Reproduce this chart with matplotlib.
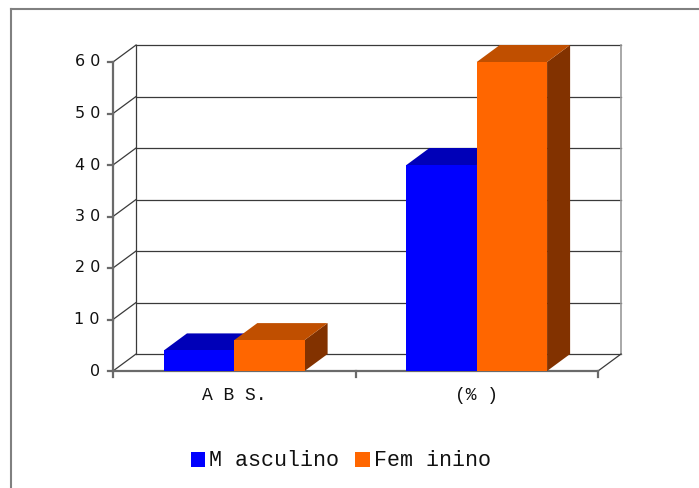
import matplotlib as mpl
mpl.use('agg')
import matplotlib.pyplot as plt
from matplotlib.patches import Polygon, Rectangle
from matplotlib.lines import Line2D

# chart data
categories = ['A B S.', '(% )']
series_names = ['M asculino', 'Fem inino']
masculino = [4, 40]
femenino = [6, 60]
yticks = [0, 10, 20, 30, 40, 50, 60]
ytick_labels = ['0', '1 0', '2 0', '3 0', '4 0', '5 0', '6 0']

front_cols = ['#0000FF', '#FF6600']
top_cols = ['#0000B8', '#C04F00']
side_cols = ['#00007A', '#823200']

DX, DY = 0.095, 3.3      # depth offset of the 3d box (x units, value units)
BW = 0.29                # bar width per series

fig = plt.figure(figsize=(6.99, 4.88), dpi=100)
ax = fig.add_axes([113 / 699, 117 / 488, 485 / 699, 309 / 488])
ax.set_xlim(0, 2)
ax.set_ylim(0, 60)
ax.axis('off')

grid_kw = dict(color='#3a3a3a', lw=0.9, clip_on=False, zorder=1)
axis_kw = dict(color='#6a6a6a', lw=1.6, clip_on=False, zorder=2)

# walls and gridlines
for g in yticks:
    ax.plot([DX, 2 + DX], [g + DY, g + DY], **grid_kw)
    ax.plot([0, DX], [g, g + DY], **grid_kw)
ax.plot([DX, DX], [DY, 60 + DY], **grid_kw)
ax.plot([2 + DX, 2 + DX], [DY, 60 + DY], color='#9a9a9a', lw=1.2, clip_on=False, zorder=1)
ax.plot([2, 2 + DX], [0, DY], **grid_kw)

# front axes
ax.plot([0, 0], [0, 60], **axis_kw)
ax.plot([0, 2], [0, 0], **axis_kw)
for g, lab in zip(yticks, ytick_labels):
    ax.plot([-0.02, 0], [g, g], **axis_kw)
    ax.text(-0.054, g, lab, ha='right', va='center', fontsize=11.5,
            family='DejaVu Sans', color='#111111')
for t in [0, 1, 2]:
    ax.plot([t, t], [0, -1.2], **axis_kw)

# bars
for i, (cat, vals) in enumerate(zip(categories, zip(masculino, femenino))):
    c = i + 0.5
    for s, v in enumerate(vals):
        x0 = c - BW + s * BW
        x1 = x0 + BW
        ax.add_patch(Polygon([(x1, 0), (x1 + DX, DY), (x1 + DX, v + DY), (x1, v)],
                             closed=True, fc=side_cols[s], ec='none', clip_on=False, zorder=3))
        ax.add_patch(Polygon([(x0, v), (x1, v), (x1 + DX, v + DY), (x0 + DX, v + DY)],
                             closed=True, fc=top_cols[s], ec='none', clip_on=False, zorder=3))
        ax.add_patch(Rectangle((x0, 0), BW, v, fc=front_cols[s], ec='none',
                               clip_on=False, zorder=4))
    ax.text(c, -4.8, cat, ha='center', va='center', fontsize=13,
            family='Liberation Mono', color='#111111')

# legend
fig.patches.append(Rectangle((191 / 699, 1 - 467 / 488), 14 / 699, 15 / 488,
                             transform=fig.transFigure, fc=front_cols[0], ec='none'))
fig.text(209 / 699, 1 - 460 / 488, series_names[0], ha='left', va='center',
         fontsize=15.6, family='Liberation Mono', color='#111111')
fig.patches.append(Rectangle((355 / 699, 1 - 467 / 488), 15 / 699, 15 / 488,
                             transform=fig.transFigure, fc=front_cols[1], ec='none'))
fig.text(374 / 699, 1 - 460 / 488, series_names[1], ha='left', va='center',
         fontsize=15.6, family='Liberation Mono', color='#111111')

# chart border (only left and top visible)
fig.add_artist(Line2D([11 / 699, 11 / 699], [0, 1 - 9 / 488], transform=fig.transFigure,
                      color='#808080', lw=1.5))
fig.add_artist(Line2D([11 / 699, 1], [1 - 9 / 488, 1 - 9 / 488], transform=fig.transFigure,
                      color='#808080', lw=1.5))

fig.savefig('out.png', dpi=100)
